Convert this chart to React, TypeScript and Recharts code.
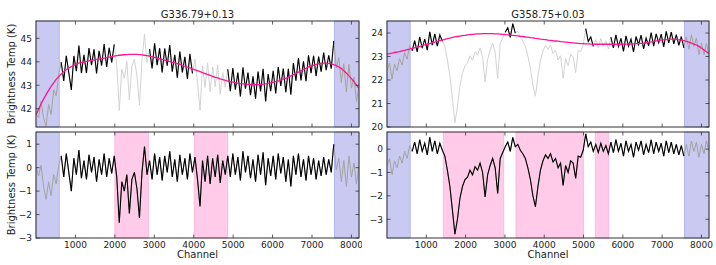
import React from 'react';
import { ComposedChart, Line, XAxis, YAxis, ReferenceArea } from 'recharts';

const FONT = '"DejaVu Sans", sans-serif';

// channel grid, one sample every 64 channels
const CHANNELS = Array.from({ length: 129 }, (_, i) => i * 64);

const X_TICKS = [1000, 2000, 3000, 4000, 5000, 6000, 7000, 8000];

// G336.79+0.13 : baseline fit (K) and residual (K)
const LEFT_FIT = [
  41.73, 41.97, 42.2, 42.41, 42.6, 42.78, 42.95, 43.1,
  43.25, 43.37, 43.48, 43.58, 43.66, 43.73, 43.8, 43.85,
  43.9, 43.94, 43.97, 44.0, 44.02, 44.04, 44.06, 44.08,
  44.1, 44.12, 44.14, 44.16, 44.18, 44.2, 44.22, 44.24,
  44.26, 44.28, 44.29, 44.3, 44.31, 44.32, 44.32, 44.32,
  44.32, 44.31, 44.3, 44.28, 44.26, 44.24, 44.22, 44.19,
  44.16, 44.13, 44.1, 44.07, 44.04, 44.01, 43.98, 43.95,
  43.92, 43.89, 43.85, 43.81, 43.77, 43.74, 43.7, 43.66,
  43.62, 43.58, 43.54, 43.5, 43.46, 43.42, 43.38, 43.34,
  43.31, 43.27, 43.24, 43.21, 43.18, 43.15, 43.13, 43.11,
  43.09, 43.07, 43.06, 43.05, 43.04, 43.03, 43.03, 43.03,
  43.03, 43.04, 43.05, 43.06, 43.08, 43.1, 43.12, 43.15,
  43.18, 43.22, 43.26, 43.3, 43.35, 43.4, 43.45, 43.5,
  43.56, 43.61, 43.67, 43.72, 43.78, 43.82, 43.86, 43.89,
  43.92, 43.93, 43.94, 43.94, 43.93, 43.91, 43.88, 43.84,
  43.78, 43.71, 43.62, 43.52, 43.4, 43.28, 43.15, 43.01,
  42.87,
];
const LEFT_RESID = [
  0.05, -0.35, 0.1, -0.8, -1.35, -0.6, -1.2, -0.3,
  -0.7, 0.1, 0.5, -0.4, 0.6, -0.2, -1.0, 0.4,
  -0.3, 0.75, -0.45, 0.3, -0.5, 0.55, -0.2, 0.45,
  -0.6, 0.35, -0.3, 0.6, -0.4, 0.4, -0.25, 0.5,
  -0.4, -2.35, -0.6, -1.0, -0.3, -1.95, -0.5, -0.2,
  -0.9, -2.15, -0.2, 0.9, -0.3, 0.3, -0.5, 0.6,
  -0.3, 0.45, -0.55, 0.5, -0.2, 0.7, -0.4, 0.35,
  -0.6, 0.55, -0.3, 0.4, -0.5, 0.6, -0.2, 0.45,
  -0.5, -1.65, 0.3, -0.6, 0.5, -0.7, 0.4, -0.4,
  0.55, -0.65, 0.3, -0.3, 0.5, -0.4, 0.6, -0.3,
  0.45, -0.55, 0.7, -0.2, 0.5, -0.45, 0.35, -0.6,
  0.55, -0.3, 0.65, -0.75, 0.4, -0.35, 0.5, -0.5,
  0.6, -0.25, 0.45, -0.6, 0.35, -0.8, 0.5, -0.3,
  0.6, -0.4, 0.35, -0.55, 0.5, -0.3, 0.4, -0.5,
  0.3, -0.35, 0.45, -0.3, 0.35, -0.2, 1.0, -0.1,
  0.4, -0.6, 0.3, -0.8, 0.5, -0.4, 0.2, -0.7,
  0.1,
];

// G358.75+0.03
const RIGHT_FIT = [
  23.1, 23.12, 23.14, 23.17, 23.19, 23.21, 23.24, 23.26,
  23.29, 23.31, 23.34, 23.37, 23.4, 23.43, 23.46, 23.49,
  23.52, 23.55, 23.58, 23.61, 23.64, 23.67, 23.7, 23.73,
  23.76, 23.78, 23.81, 23.83, 23.85, 23.87, 23.89, 23.9,
  23.92, 23.93, 23.94, 23.95, 23.96, 23.96, 23.97, 23.97,
  23.97, 23.97, 23.97, 23.96, 23.96, 23.95, 23.94, 23.93,
  23.92, 23.91, 23.9, 23.89, 23.88, 23.86, 23.85, 23.83,
  23.82, 23.8, 23.79, 23.77, 23.76, 23.74, 23.73, 23.72,
  23.7, 23.69, 23.67, 23.66, 23.65, 23.63, 23.62, 23.61,
  23.6, 23.59, 23.58, 23.57, 23.56, 23.55, 23.55, 23.54,
  23.54, 23.53, 23.53, 23.52, 23.52, 23.52, 23.52, 23.52,
  23.52, 23.52, 23.52, 23.52, 23.52, 23.52, 23.52, 23.53,
  23.53, 23.54, 23.54, 23.55, 23.55, 23.56, 23.57, 23.58,
  23.6, 23.62, 23.64, 23.66, 23.68, 23.7, 23.71, 23.72,
  23.73, 23.74, 23.74, 23.73, 23.72, 23.7, 23.67, 23.64,
  23.61, 23.57, 23.53, 23.49, 23.43, 23.36, 23.28, 23.2,
  23.12,
];
const RIGHT_RESID = [
  -0.7, -0.4, -1.1, -0.5, -0.8, -0.3, -0.6, -0.1,
  -0.4, 0.15, -0.1, 0.3, -0.2, 0.4, -0.1, 0.25,
  -0.25, 0.5, -0.1, 0.35, -0.2, 0.25, -0.05, -0.3,
  -0.9, -1.6, -2.6, -3.64, -3.0, -2.1, -1.6, -1.3,
  -1.2, -0.9, -1.1, -0.75, -0.9, -0.6, -1.0, -2.05,
  -1.1, -0.7, -0.4, -0.8, -1.9, -0.4, -0.15, 0.1,
  0.3, -0.1, 0.5, 0.1, 0.2, -0.05, -0.2, -0.4,
  -0.8, -1.3, -2.0, -2.46, -1.6, -0.9, -0.5, -0.25,
  -0.4, -0.2, -0.55, -0.4, -0.8, -0.6, -1.55, -0.7,
  -1.0, -0.5, -0.6, -1.25, -0.3, -0.35, -0.05, 0.65,
  0.1, 0.3, -0.1, 0.2, -0.15, 0.25, -0.1, 0.15,
  -0.2, 0.3, -0.15, 0.4, -0.1, 0.25, -0.3, 0.35,
  -0.1, 0.2, -0.35, 0.3, -0.05, 0.35, -0.25, 0.2,
  -0.15, 0.4, -0.2, 0.3, -0.1, 0.25, -0.3, 0.35,
  -0.15, 0.3, -0.2, 0.2, -0.25, 0.15, -0.3, 0.2,
  -0.3, 0.35, -0.1, 0.3, -0.35, 0.2, -0.2, 0.35,
  -0.1,
];

// excluded edges (blue) and line windows (pink), in channels
const EDGE_BANDS = [[0, 590], [7570, 8192]];
const LEFT_LINE_BANDS = [[2000, 2850], [4015, 4860]];
const RIGHT_LINE_BANDS = [[1433, 2968], [3282, 4995], [5300, 5640]];

const TL_TICKS = [42, 43, 44, 45];
const BL_TICKS = [-3, -2, -1, 0, 1];
const TR_TICKS = [20, 21, 22, 23, 24];
const BR_TICKS = [-3, -2, -1, 0];

const inBand = (ch: number, bands: number[][]) => bands.some(([a, b]) => ch >= a && ch <= b);

function buildRows(fit: number[], resid: number[], lineBands: number[][]) {
  return CHANNELS.map((ch, i) => {
    const t = +(fit[i] + resid[i]).toFixed(3);
    const edge = inBand(ch, EDGE_BANDS);
    const nearEdge = edge || inBand(ch - 64, EDGE_BANDS) || inBand(ch + 64, EDGE_BANDS);
    const masked = edge || inBand(ch, lineBands);
    return {
      ch,
      fit: fit[i],
      top: t,
      topEdge: nearEdge ? t : null,
      topBlack: masked ? null : t,
      res: resid[i],
      resBlack: edge ? null : resid[i],
    };
  });
}

const leftRows = buildRows(LEFT_FIT, LEFT_RESID, LEFT_LINE_BANDS);
const rightRows = buildRows(RIGHT_FIT, RIGHT_RESID, RIGHT_LINE_BANDS);

type Rect = { x: number; y: number; w: number; h: number };
type Box = { left: number; top: number; w: number; h: number };

const AX = 1; // space given to each axis strip

const fmt = (v: number) => (v < 0 ? '\u2212' + Math.abs(v) : String(v));

function makeXTick(rect: Rect, showLabel: boolean) {
  return (props: any) => {
    const { x, payload } = props;
    const b = rect.y + rect.h;
    return (
      <g key={'xt' + payload.value}>
        <line x1={x} x2={x} y1={b} y2={b - 3.5} stroke="#333" strokeWidth={0.8} />
        <line x1={x} x2={x} y1={rect.y} y2={rect.y + 3.5} stroke="#333" strokeWidth={0.8} />
        {showLabel && (
          <text x={x} y={b + 9.5} textAnchor="middle" fontSize={9} fontFamily={FONT} fill="#222">
            {payload.value}
          </text>
        )}
      </g>
    );
  };
}

function makeYTick(rect: Rect) {
  return (props: any) => {
    const { y, payload } = props;
    const r = rect.x + rect.w;
    return (
      <g key={'yt' + payload.value}>
        <line x1={rect.x} x2={rect.x + 3.5} y1={y} y2={y} stroke="#333" strokeWidth={0.8} />
        <line x1={r} x2={r - 3.5} y1={y} y2={y} stroke="#333" strokeWidth={0.8} />
        <text x={rect.x - 4} y={y + 3.3} textAnchor="end" fontSize={9} fontFamily={FONT} fill="#222">
          {fmt(payload.value)}
        </text>
      </g>
    );
  };
}

type Series = { key: string; color: string; width: number };

function Panel(props: {
  box: Box;
  rect: Rect;
  rows: any[];
  yDomain: [number, number];
  yTicks: number[];
  edgeBands: number[][];
  lineBands: number[][];
  series: Series[];
  xLabels: boolean;
}) {
  const { box, rect, rows, yDomain, yTicks, edgeBands, lineBands, series, xLabels } = props;
  const margin = {
    top: rect.y,
    left: rect.x - AX,
    right: box.w - rect.x - rect.w,
    bottom: box.h - rect.y - rect.h - AX,
  };
  return (
    <div style={{ position: 'absolute', left: box.left, top: box.top, width: box.w, height: box.h }}>
      <ComposedChart width={box.w} height={box.h} data={rows} margin={margin}>
        <XAxis
          dataKey="ch"
          type="number"
          domain={[0, 8192]}
          allowDataOverflow
          ticks={X_TICKS}
          interval={0}
          height={AX}
          axisLine={false}
          tickLine={false}
          tick={makeXTick(rect, xLabels)}
        />
        <YAxis
          type="number"
          domain={yDomain}
          allowDataOverflow
          ticks={yTicks}
          interval={0}
          width={AX}
          axisLine={false}
          tickLine={false}
          tick={makeYTick(rect)}
        />
        {lineBands.map(([a, b]) => (
          <ReferenceArea key={'l' + a} x1={a} x2={b} fill="#ffcbe8" fillOpacity={1} stroke="#ffb8de" strokeWidth={1} />
        ))}
        {edgeBands.map(([a, b]) => (
          <ReferenceArea key={'e' + a} x1={a} x2={b} fill="#c9c9f1" fillOpacity={1} stroke="#b4b4ee" strokeWidth={1} />
        ))}
        {series.map((s) => (
          <Line
            key={s.key}
            dataKey={s.key}
            type="linear"
            stroke={s.color}
            strokeWidth={s.width}
            dot={false}
            activeDot={false}
            connectNulls={false}
            isAnimationActive={false}
          />
        ))}
      </ComposedChart>
    </div>
  );
}

const TOP_SERIES: Series[] = [
  { key: 'top', color: '#d3d3d3', width: 1 },
  { key: 'topEdge', color: '#a3a3a3', width: 1 },
  { key: 'topBlack', color: '#000000', width: 1.1 },
  { key: 'fit', color: '#ff1493', width: 1.3 },
];
const BOTTOM_SERIES: Series[] = [
  { key: 'res', color: '#a3a3a3', width: 1 },
  { key: 'resBlack', color: '#000000', width: 1.1 },
];

// top boxes run a little into the lower row so the lowest tick label is not clipped
const TL = { box: { left: 0, top: 0, w: 362, h: 136 }, rect: { x: 36, y: 21, w: 323, h: 106 } };
const BL = { box: { left: 0, top: 130, w: 362, h: 135 }, rect: { x: 36, y: 2, w: 323, h: 106 } };
const TR = { box: { left: 362, top: 0, w: 354, h: 136 }, rect: { x: 25, y: 21, w: 322, h: 106 } };
const BR = { box: { left: 362, top: 130, w: 354, h: 135 }, rect: { x: 25, y: 2, w: 322, h: 106 } };

export default function App() {
  const frames = [TL, BL, TR, BR];
  const txt = { fontFamily: FONT, fill: '#222' };
  return (
    <div style={{ position: 'absolute', left: 0, top: 0, width: 716, height: 265, background: '#fff' }}>
      <Panel {...BL} rows={leftRows} yDomain={[-3, 1.52]} yTicks={BL_TICKS} edgeBands={EDGE_BANDS} lineBands={LEFT_LINE_BANDS} series={BOTTOM_SERIES} xLabels />
      <Panel {...BR} rows={rightRows} yDomain={[-3.8, 0.73]} yTicks={BR_TICKS} edgeBands={EDGE_BANDS} lineBands={RIGHT_LINE_BANDS} series={BOTTOM_SERIES} xLabels />
      <Panel {...TL} rows={leftRows} yDomain={[41.22, 45.74]} yTicks={TL_TICKS} edgeBands={EDGE_BANDS} lineBands={[]} series={TOP_SERIES} xLabels={false} />
      <Panel {...TR} rows={rightRows} yDomain={[20, 24.51]} yTicks={TR_TICKS} edgeBands={EDGE_BANDS} lineBands={[]} series={TOP_SERIES} xLabels={false} />
      <svg width={716} height={265} style={{ position: 'absolute', left: 0, top: 0, pointerEvents: 'none' }}>
        {frames.map((f, i) => (
          <rect
            key={i}
            x={f.box.left + f.rect.x}
            y={f.box.top + f.rect.y}
            width={f.rect.w}
            height={f.rect.h}
            fill="none"
            stroke="#333"
            strokeWidth={1}
          />
        ))}
        <text x={197.5} y={17.5} textAnchor="middle" fontSize={10} {...txt}>G336.79+0.13</text>
        <text x={548} y={17.5} textAnchor="middle" fontSize={10} {...txt}>G358.75+0.03</text>
        <text x={197.5} y={258} textAnchor="middle" fontSize={10} {...txt}>Channel</text>
        <text x={548} y={258} textAnchor="middle" fontSize={10} {...txt}>Channel</text>
        <text transform="translate(14.6,74) rotate(-90)" textAnchor="middle" fontSize={10} {...txt}>Brightness Temp (K)</text>
        <text transform="translate(14.6,185) rotate(-90)" textAnchor="middle" fontSize={10} {...txt}>Brightness Temp (K)</text>
      </svg>
    </div>
  );
}
